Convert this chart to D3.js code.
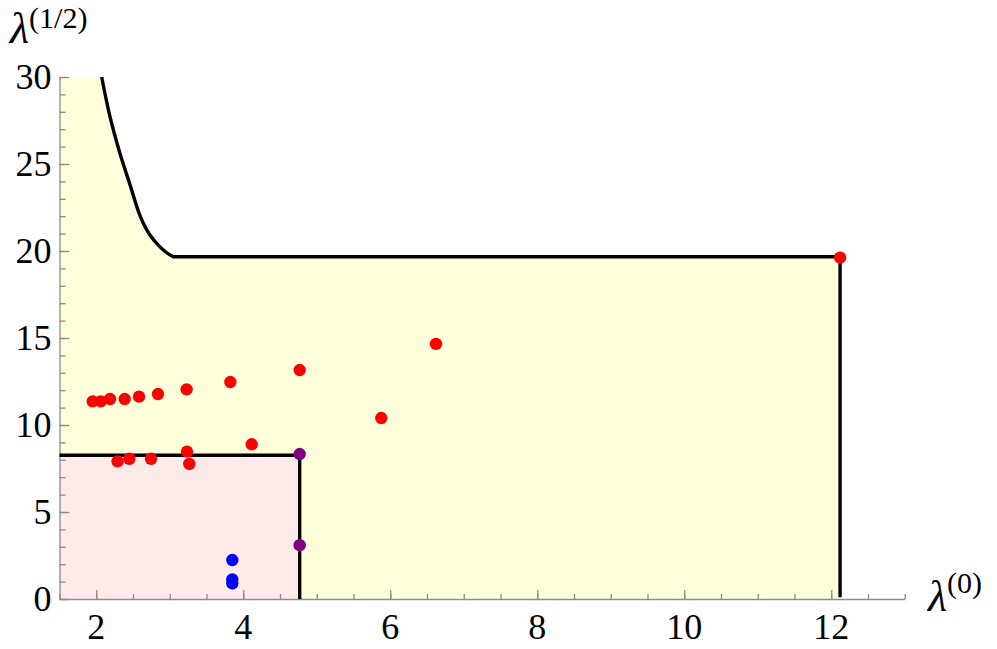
<!DOCTYPE html>
<html><head><meta charset="utf-8">
<script src="https://cdn.jsdelivr.net/npm/d3@7"></script>
</head>
<body style="margin:0">
<svg id="chart" width="997" height="649"></svg>
<script>
// ---- data ----
const xDomain = [1.5, 13];
const yDomain = [0, 30];
const xMajorTicks = [2, 4, 6, 8, 10, 12];
const xMinorTicks = d3.range(1.5, 13.01, 0.5);
const yMajorTicks = [0, 5, 10, 15, 20, 25, 30];
const yMinorTicks = d3.range(0, 30.01, 1);

// upper boundary curve of the yellow region
const boundaryX = [2.074, 2.187, 2.323, 2.46, 2.572, 2.64, 2.731, 2.844, 2.959, 3.048, 12.12];
const boundaryY = [30.0, 27.72, 25.6, 23.8, 22.3, 21.6, 20.92, 20.34, 19.90, 19.67, 19.67];
const yellowRight = 12.12;

// pink box
const pinkBox = [4.768, 8.26];

// points
const redX = [1.952, 2.06, 2.187, 2.387, 2.582, 2.84, 3.23, 3.824, 4.768, 5.878, 6.622, 12.12,
              4.115, 3.235, 2.29, 2.45, 2.745, 3.266];
const redY = [11.36, 11.36, 11.49, 11.49, 11.63, 11.78, 12.05, 12.47, 13.16, 10.40, 14.66, 19.62,
              8.89, 8.47, 7.91, 8.06, 8.06, 7.76];
const blueX = [3.851, 3.851, 3.851];
const blueY = [2.24, 1.13, 0.90];
const purpleX = [4.768, 4.768];
const purpleY = [8.33, 3.09];

// ---- drawing ----
const svg = d3.select("#chart");
const x = d3.scaleLinear().domain(xDomain).range([59.5, 904.75]);
const y = d3.scaleLinear().domain(yDomain).range([599, 77]);
const fontCss = '"Liberation Serif"';

const boundaryPts = boundaryX.map((d, i) => [d, boundaryY[i]]);
const curvePts = boundaryPts.slice(0, boundaryPts.length - 1);
const smoothLine = d3.line().x(d => x(d[0])).y(d => y(d[1])).curve(d3.curveCatmullRom.alpha(0.5));
const boundaryPath = smoothLine(curvePts) + `L${x(yellowRight)},${y(boundaryY[boundaryY.length - 1])}`;

// yellow region
svg.append("path")
  .attr("d", boundaryPath + `L${x(yellowRight)},${y(0)}L${x(xDomain[0])},${y(0)}L${x(xDomain[0])},${y(yDomain[1])}Z`)
  .attr("fill", "#ffffdc");

// pink region
svg.append("rect")
  .attr("x", x(xDomain[0])).attr("y", y(pinkBox[1]))
  .attr("width", x(pinkBox[0]) - x(xDomain[0]))
  .attr("height", y(0) - y(pinkBox[1]))
  .attr("fill", "#ffeaea");

// axes (ticks only; labels drawn as separate text below)
function styleAxis(g) {
  g.attr("font-family", null).attr("font-size", null);
  g.selectAll("path.domain").attr("stroke", "#8c8c8c").attr("stroke-width", 1.3);
  g.selectAll(".tick line").attr("stroke", "#8c8c8c").attr("stroke-width", 1.3);
  g.selectAll("text").remove();
}
const gxMinor = svg.append("g").attr("transform", `translate(0,${y(0)})`)
  .call(d3.axisBottom(x).tickValues(xMinorTicks).tickSize(-5).tickSizeOuter(0));
styleAxis(gxMinor);
const gx = svg.append("g").attr("transform", `translate(0,${y(0)})`)
  .call(d3.axisBottom(x).tickValues(xMajorTicks).tickSize(-9).tickSizeOuter(0));
styleAxis(gx);
gx.select("path.domain").remove();

const gyMinor = svg.append("g").attr("transform", `translate(${x(xDomain[0])},0)`)
  .call(d3.axisLeft(y).tickValues(yMinorTicks).tickSize(-6).tickSizeOuter(0));
styleAxis(gyMinor);
const gy = svg.append("g").attr("transform", `translate(${x(xDomain[0])},0)`)
  .call(d3.axisLeft(y).tickValues(yMajorTicks).tickSize(-10).tickSizeOuter(0));
styleAxis(gy);
gy.select("path.domain").remove();

// tick labels, positioned by the scales
svg.selectAll("text.xlab").data(xMajorTicks).join("text")
  .attr("class", "xlab")
  .attr("x", d => x(d)).attr("y", y(0) + 40)
  .attr("font-size", 36).attr("text-anchor", "middle").attr("fill", "#000")
  .style("font-family", d => fontCss)
  .text(d => d);
svg.selectAll("text.ylab").data(yMajorTicks).join("text")
  .attr("class", "ylab")
  .attr("x", x(xDomain[0]) - 8).attr("y", d => y(d) + 12)
  .attr("font-size", 36).attr("text-anchor", "end").attr("fill", "#000")
  .style("font-family", d => fontCss)
  .text(d => d);

// boundary lines
svg.append("path")
  .attr("d", boundaryPath)
  .attr("fill", "none").attr("stroke", "#000").attr("stroke-width", 3.4)
  .attr("stroke-linejoin", "round");
svg.append("path")
  .attr("d", d3.line().x(d => x(d[0])).y(d => y(d[1]))(
    [[yellowRight, boundaryY[boundaryY.length - 1]], [yellowRight, 0.2]]))
  .attr("fill", "none").attr("stroke", "#000").attr("stroke-width", 3.4)
  .attr("stroke-linecap", "square");
svg.append("path")
  .attr("d", d3.line().x(d => x(d[0])).y(d => y(d[1]))(
    [[xDomain[0], pinkBox[1]], [pinkBox[0], pinkBox[1]], [pinkBox[0], 0]]))
  .attr("fill", "none").attr("stroke", "#000").attr("stroke-width", 3.4);

// points
function dots(xs, ys, color) {
  svg.append("g").selectAll("circle").data(xs).join("circle")
    .attr("cx", d => x(d)).attr("cy", (d, i) => y(ys[i]))
    .attr("r", 6.2).attr("fill", color);
}
dots(redX, redY, "#ff0000");
dots(blueX, blueY, "#0000ff");
dots(purpleX, purpleY, "#800080");

// axis titles
const titles = [
  {sym: "λ", sup: "(1/2)", x: 10, y: 43, dy: -15},
  {sym: "λ", sup: "(0)", x: 928, y: 611, dy: -18}
];
const tt = svg.selectAll("text.title").data(titles).join("text")
  .attr("class", "title")
  .attr("x", d => d.x).attr("y", d => d.y)
  .attr("font-size", 44).attr("fill", "#000")
  .style("font-family", d => fontCss);
tt.append("tspan").attr("font-style", "italic").text(d => d.sym);
tt.append("tspan").attr("font-size", 30).attr("dy", d => d.dy).text(d => d.sup);
</script>
</body></html>
